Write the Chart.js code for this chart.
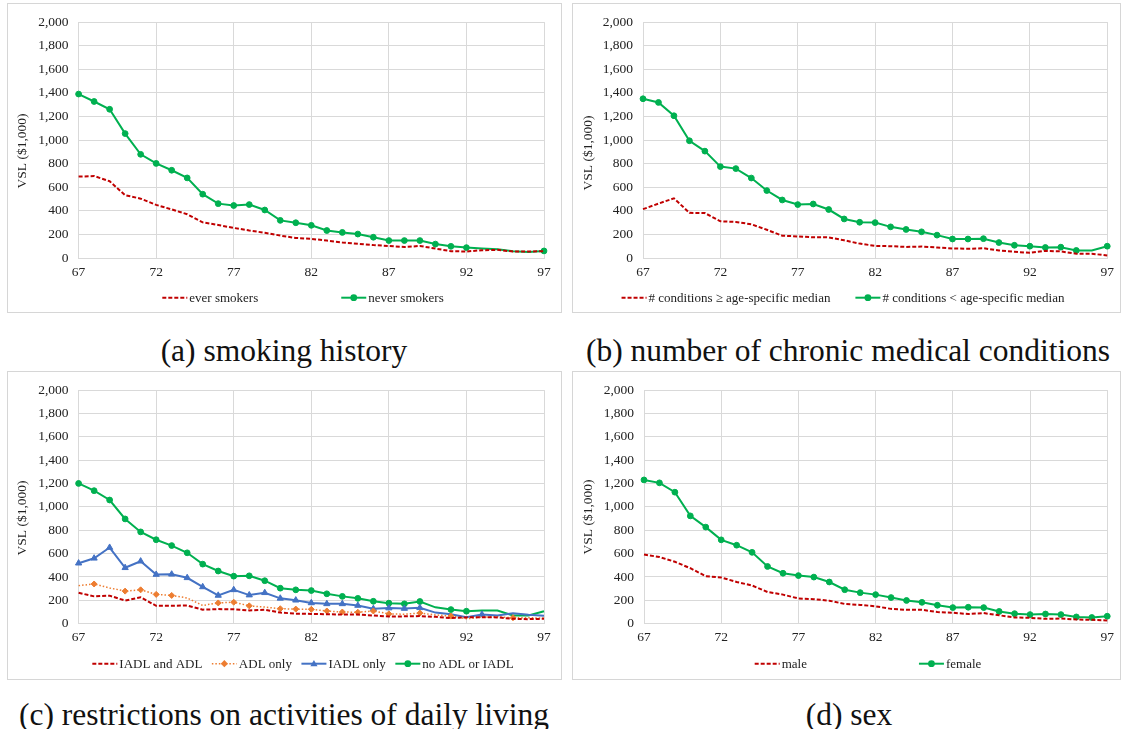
<!DOCTYPE html>
<html>
<head>
<meta charset="utf-8">
<title>VSL by age</title>
<script src="https://cdn.jsdelivr.net/npm/chart.js@4.4.0/dist/chart.umd.min.js"></script>
<style>
    body { margin: 0; width: 1122px; height: 729px; position: relative; overflow: hidden; background: #fff; font-family: "Liberation Serif", serif; }
    .panel { position: absolute; border: 1px solid #D6D6D6; box-sizing: border-box; }
    .panel canvas { position: absolute; left: 0; top: 0; }
    .caption { position: absolute; width: 560px; text-align: center; font-size: 31.5px; line-height: 36px; color: #111; white-space: nowrap; }
</style>
</head>
<body>
<div class="panel" style="left:7px;top:3px;width:555px;height:310px"><canvas id="chartA" width="553" height="308"></canvas></div>
<div class="panel" style="left:572px;top:3px;width:549px;height:310px"><canvas id="chartB" width="547" height="308"></canvas></div>
<div class="panel" style="left:7px;top:371px;width:555px;height:309px"><canvas id="chartC" width="553" height="307"></canvas></div>
<div class="panel" style="left:572px;top:371px;width:549px;height:309px"><canvas id="chartD" width="547" height="307"></canvas></div>

<div class="caption" style="left:4px;top:333px">(a) smoking history</div>
<div class="caption" style="left:568px;top:333px">(b) number of chronic medical conditions</div>
<div class="caption" style="left:4px;top:697px">(c) restrictions on activities of daily living</div>
<div class="caption" style="left:569px;top:697px">(d) sex</div>

<script>
// Age on the x axis
const ages = [67, 68, 69, 70, 71, 72, 73, 74, 75, 76, 77, 78, 79, 80, 81, 82,
              83, 84, 85, 86, 87, 88, 89, 90, 91, 92, 93, 94, 95, 96, 97];
const xTicks = [67, 72, 77, 82, 87, 92, 97];
const yTicks = [0, 200, 400, 600, 800, 1000, 1200, 1400, 1600, 1800, 2000];

// (a) smoking history
const everSmokers = [690, 695, 651, 533, 503, 450, 412, 371, 302, 280, 255, 233, 214, 190, 170, 162,
                     148, 132, 121, 110, 102, 93, 102, 80, 58, 55, 66, 69, 55, 55, 58];
const neverSmokers = [1390, 1327, 1261, 1055, 879, 802, 744, 679, 541, 461, 445, 453, 407, 319, 299, 277,
                      233, 217, 203, 176, 148, 148, 148, 118, 99, 88, 80, 74, 57, 50, 60];
const neverSmokersUnmarked = [93, 94, 95, 96];

// (b) number of chronic medical conditions
const condAboveMedian = [414, 461, 506, 383, 381, 311, 306, 286, 239, 189, 183, 175, 175, 150, 122, 103,
                         100, 94, 97, 89, 81, 78, 83, 64, 53, 44, 61, 56, 36, 36, 22];
const condBelowMedian = [1350, 1319, 1206, 994, 906, 775, 758, 678, 572, 492, 453, 458, 411, 331, 303, 300,
                         264, 242, 222, 194, 161, 161, 164, 131, 108, 100, 89, 92, 64, 64, 100];
const condBelowUnmarked = [96];

// (c) restrictions on activities of daily living
const iadlAndAdl = [265, 234, 240, 198, 226, 153, 153, 156, 120, 125, 123, 114, 120, 95, 86, 84,
                    81, 78, 78, 70, 61, 63, 65, 59, 48, 54, 56, 54, 42, 39, 42];
const adlOnly = [326, 340, 306, 279, 290, 251, 242, 220, 156, 178, 184, 153, 142, 128, 125, 123,
                 109, 100, 98, 109, 84, 81, 91, 75, 65, 42, 56, 59, 51, 51, 48];
const adlOnlyUnmarked = [67, 69, 74, 75, 79, 88, 90, 92, 93, 94, 96, 97];
const iadlOnly = [518, 560, 652, 479, 535, 421, 423, 393, 315, 242, 290, 245, 265, 217, 201, 178,
                  170, 170, 156, 128, 134, 130, 136, 95, 80, 56, 79, 70, 90, 76, 68];
const iadlOnlyUnmarked = [90, 91, 92, 94, 95, 96, 97];
const noAdlOrIadl = [1201, 1139, 1059, 897, 786, 719, 669, 607, 510, 451, 407, 410, 368, 304, 290, 284,
                     256, 234, 217, 192, 176, 170, 190, 140, 121, 107, 112, 112, 70, 70, 107];
const noAdlUnmarked = [90, 93, 94, 95, 96, 97];

// (d) sex
const male = [592, 571, 530, 475, 407, 396, 357, 327, 271, 249, 216, 210, 197, 169, 161, 149,
              127, 119, 119, 100, 94, 83, 91, 72, 53, 50, 42, 44, 36, 33, 28];
const female = [1231, 1206, 1126, 923, 827, 718, 672, 611, 490, 432, 412, 399, 357, 291, 266, 249,
                224, 199, 183, 158, 138, 141, 138, 105, 86, 78, 83, 78, 58, 53, 64];

// Line styles (Excel-like)
const RED = { color: '#C00000', width: 2, dash: [4, 2], marker: null, r: 0 };
const ORANGE = { color: '#ED7D31', width: 1.5, dash: [1.5, 2], marker: 'rectRot', r: 3 };
const BLUE = { color: '#4472C4', width: 2, dash: [], marker: 'triangle', r: 3.6 };
const GREEN = { color: '#00B050', width: 2, dash: [], marker: 'circle', r: 2.9 };

const FONT = '"Liberation Serif", "Times New Roman", serif';
const TEXT = '#222222';
const GRID = '#D9D9D9';

function makeDataset(label, values, style, unmarked) {
    const skip = unmarked || [];
    return {
        label: label,
        data: ages.map((a, i) => ({ x: a, y: values[i] })),
        borderColor: style.color,
        backgroundColor: style.color,
        borderWidth: style.width,
        borderDash: style.dash,
        pointStyle: style.marker || 'circle',
        pointRadius: ages.map(a => (style.marker && !skip.includes(a)) ? style.r : 0),
        pointBackgroundColor: style.color,
        pointBorderColor: style.color,
        pointBorderWidth: 1,
        tension: 0,
        clip: 8,
        markerR: style.r
    };
}

// Small marker drawn in the legend sample
function drawMarker(ctx, type, x, y, r, color) {
    ctx.fillStyle = color;
    ctx.beginPath();
    if (type === 'circle') {
        ctx.arc(x, y, r + 0.5, 0, Math.PI * 2);
    } else if (type === 'triangle') {
        for (let k = 0; k < 3; k++) {
            const ang = -Math.PI / 2 + k * 2 * Math.PI / 3;
            const px = x + r * 1.15 * Math.cos(ang), py = y + r * 1.15 * Math.sin(ang) + 0.5;
            if (k === 0) ctx.moveTo(px, py); else ctx.lineTo(px, py);
        }
        ctx.closePath();
    } else if (type === 'rectRot') {
        ctx.moveTo(x, y - r * 1.2);
        ctx.lineTo(x + r * 1.2, y);
        ctx.lineTo(x, y + r * 1.2);
        ctx.lineTo(x - r * 1.2, y);
        ctx.closePath();
    }
    ctx.fill();
}

// Legend with line + marker samples, and the rotated y-axis title
const excelLegend = {
    id: 'excelLegend',
    afterDraw(chart, args, opts) {
        const ctx = chart.ctx;
        ctx.save();
        ctx.font = '13px ' + FONT;
        const sample = 25;
        const items = chart.data.datasets.map(ds => ({ ds, w: sample + 2 + ctx.measureText(ds.label).width }));
        const total = items.reduce((s, it) => s + it.w, 0) + opts.gap * (items.length - 1);
        let x = opts.cx - total / 2;
        items.forEach(it => {
            const ds = it.ds;
            ctx.strokeStyle = ds.borderColor;
            ctx.lineWidth = ds.borderWidth;
            ctx.setLineDash(ds.borderDash || []);
            ctx.beginPath();
            ctx.moveTo(x, opts.y);
            ctx.lineTo(x + sample, opts.y);
            ctx.stroke();
            ctx.setLineDash([]);
            if (ds.markerR > 0) drawMarker(ctx, ds.pointStyle, x + sample / 2, opts.y, ds.markerR, ds.borderColor);
            ctx.fillStyle = TEXT;
            ctx.textAlign = 'left';
            ctx.textBaseline = 'middle';
            ctx.fillText(ds.label, x + sample + 2, opts.y + 1);
            x += it.w + opts.gap;
        });

        ctx.font = '13.5px ' + FONT;
        ctx.translate(opts.titleX, opts.titleY);
        ctx.rotate(-Math.PI / 2);
        ctx.textAlign = 'center';
        ctx.textBaseline = 'middle';
        ctx.fillStyle = TEXT;
        ctx.fillText('VSL ($1,000)', 0, 0);
        ctx.restore();
    }
};

function makeChart(canvasId, datasets, plot, legend) {
    const canvas = document.getElementById(canvasId);
    const ctx = canvas.getContext('2d');
    return new Chart(ctx, {
        type: 'line',
        data: { datasets: datasets },
        options: {
            responsive: false,
            animation: false,
            events: [],
            layout: { padding: { left: 0, top: plot.t, right: canvas.width - plot.r, bottom: 0 } },
            plugins: {
                legend: { display: false },
                tooltip: { enabled: false },
                excelLegend: legend
            },
            scales: {
                x: {
                    type: 'linear',
                    min: 67,
                    max: 97,
                    afterBuildTicks: s => { s.ticks = xTicks.map(v => ({ value: v })); },
                    afterFit: s => { s.height = canvas.height - plot.b; },
                    ticks: { padding: 6, color: TEXT, font: { family: FONT, size: 13.5 }, autoSkip: false, maxRotation: 0 },
                    grid: { color: GRID, drawTicks: false },
                    border: { color: GRID }
                },
                y: {
                    min: 0,
                    max: 2000,
                    afterBuildTicks: s => { s.ticks = yTicks.map(v => ({ value: v })); },
                    afterFit: s => { s.width = plot.l; },
                    ticks: {
                        padding: 10,
                        color: TEXT,
                        font: { family: FONT, size: 13.5 },
                        callback: v => v.toLocaleString('en-US')
                    },
                    grid: { color: GRID, drawTicks: false },
                    border: { color: GRID }
                }
            }
        },
        plugins: [excelLegend]
    });
}

makeChart('chartA', [
    makeDataset('ever smokers', everSmokers, RED),
    makeDataset('never smokers', neverSmokers, GREEN, neverSmokersUnmarked)
], { l: 70.6, r: 536, t: 11, b: 254 }, { cx: 295, y: 293.7, gap: 83, titleX: 14, titleY: 147 });

makeChart('chartB', [
    makeDataset('# conditions \u2265 age-specific median', condAboveMedian, RED),
    makeDataset('# conditions < age-specific median', condBelowMedian, GREEN, condBelowUnmarked)
], { l: 70, r: 536, t: 14, b: 254 }, { cx: 270, y: 293.7, gap: 25, titleX: 15, titleY: 149 });

makeChart('chartC', [
    makeDataset('IADL and ADL', iadlAndAdl, RED),
    makeDataset('ADL only', adlOnly, ORANGE, adlOnlyUnmarked),
    makeDataset('IADL only', iadlOnly, BLUE, iadlOnlyUnmarked),
    makeDataset('no ADL or IADL', noAdlOrIadl, GREEN, noAdlUnmarked)
], { l: 70.6, r: 536, t: 11.3, b: 251.7 }, { cx: 295, y: 291.7, gap: 9.5, titleX: 14.8, titleY: 146 });

makeChart('chartD', [
    makeDataset('male', male, RED),
    makeDataset('female', female, GREEN)
], { l: 71, r: 535, t: 9, b: 251.7 }, { cx: 295, y: 291.7, gap: 112, titleX: 15, titleY: 145 });
</script>
</body>
</html>
